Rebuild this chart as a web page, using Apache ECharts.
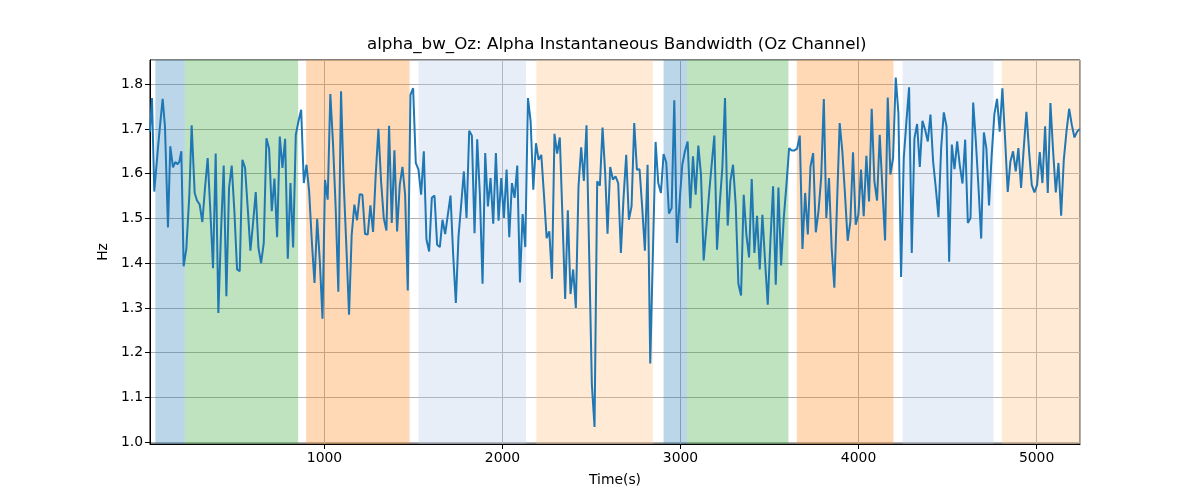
<!DOCTYPE html>
<html>
<head>
<meta charset="utf-8">
<title>alpha_bw_Oz</title>
<script src="https://cdn.jsdelivr.net/npm/echarts@6/dist/echarts.min.js"></script>
<style>
  html, body { margin: 0; padding: 0; background: #fff; }
  #main { width: 1200px; height: 500px; }
</style>
</head>
<body>
<div id="main"></div>
<script>
// time stamps (s) and alpha bandwidth (Hz)
const times = [
  20, 31, 44, 63, 76, 91, 104, 121, 134, 149, 162, 175, 185, 196, 209, 224, 241, 254, 271, 284,
  299, 314, 329, 344, 359, 374, 389, 404, 419, 434, 449, 464, 479, 494, 509, 524, 539, 554, 569, 584,
  599, 614, 629, 644, 659, 674, 689, 704, 719, 734, 749, 764, 779, 794, 809, 824, 839, 854, 869, 884,
  899, 914, 929, 944, 959, 974, 989, 1003, 1018, 1033, 1048, 1063, 1078, 1093, 1108, 1123, 1138, 1153, 1168, 1183,
  1198, 1213, 1228, 1243, 1258, 1273, 1288, 1303, 1318, 1333, 1348, 1363, 1378, 1393, 1408, 1423, 1438, 1453, 1468, 1483,
  1498, 1513, 1528, 1543, 1558, 1573, 1588, 1603, 1618, 1633, 1648, 1663, 1678, 1693, 1708, 1723, 1738, 1753, 1768, 1783,
  1798, 1813, 1828, 1843, 1858, 1873, 1888, 1903, 1918, 1933, 1948, 1963, 1978, 1993, 2008, 2023, 2038, 2053, 2068, 2083,
  2098, 2113, 2128, 2143, 2158, 2173, 2188, 2203, 2218, 2233, 2248, 2263, 2278, 2292, 2307, 2322, 2337, 2352, 2367, 2382,
  2397, 2412, 2427, 2442, 2457, 2472, 2487, 2502, 2517, 2532, 2547, 2562, 2577, 2590, 2605, 2620, 2635, 2650, 2665, 2680,
  2695, 2710, 2725, 2740, 2755, 2770, 2785, 2800, 2815, 2830, 2860, 2875, 2890, 2905, 2920, 2935, 2950, 2965, 2980, 2995,
  3010, 3025, 3040, 3055, 3070, 3085, 3100, 3115, 3130, 3145, 3160, 3175, 3190, 3205, 3220, 3235, 3250, 3265, 3280, 3295,
  3310, 3325, 3340, 3355, 3370, 3385, 3400, 3415, 3430, 3445, 3460, 3475, 3490, 3505, 3520, 3535, 3550, 3565, 3580, 3595,
  3610, 3625, 3640, 3655, 3670, 3685, 3700, 3715, 3730, 3745, 3760, 3775, 3790, 3805, 3819, 3834, 3849, 3864, 3879, 3894,
  3909, 3924, 3939, 3954, 3969, 3984, 3999, 4014, 4029, 4044, 4059, 4074, 4089, 4104, 4119, 4134, 4149, 4164, 4179, 4194,
  4209, 4224, 4239, 4254, 4269, 4284, 4299, 4314, 4329, 4344, 4359, 4374, 4389, 4404, 4419, 4434, 4449, 4464, 4479, 4494,
  4509, 4524, 4539, 4554, 4569, 4584, 4599, 4614, 4629, 4644, 4659, 4674, 4689, 4704, 4718, 4733, 4748, 4763, 4778, 4793,
  4808, 4823, 4838, 4853, 4868, 4883, 4898, 4913, 4928, 4943, 4958, 4973, 4988, 5003, 5018, 5033, 5048, 5063, 5078, 5093,
  5108, 5123, 5138, 5153, 5168, 5183, 5198, 5213, 5228, 5243
];
const bw = [
  1.694, 1.769, 1.560, 1.650, 1.706, 1.767, 1.706, 1.480, 1.661, 1.614, 1.626, 1.621, 1.627, 1.650, 1.393, 1.432, 1.553, 1.708, 1.557, 1.540,
  1.531, 1.492, 1.568, 1.635, 1.516, 1.389, 1.645, 1.289, 1.471, 1.618, 1.326, 1.568, 1.618, 1.516, 1.386, 1.382, 1.631, 1.613, 1.523, 1.428,
  1.490, 1.559, 1.435, 1.400, 1.445, 1.679, 1.656, 1.516, 1.589, 1.458, 1.683, 1.613, 1.678, 1.410, 1.579, 1.435, 1.687, 1.717, 1.743, 1.579,
  1.620, 1.560, 1.449, 1.356, 1.499, 1.404, 1.276, 1.586, 1.542, 1.778, 1.668, 1.523, 1.336, 1.784, 1.579, 1.438, 1.285, 1.464, 1.531, 1.496,
  1.554, 1.553, 1.465, 1.464, 1.529, 1.470, 1.598, 1.700, 1.583, 1.501, 1.473, 1.707, 1.490, 1.652, 1.471, 1.575, 1.615, 1.553, 1.339, 1.776,
  1.791, 1.624, 1.609, 1.553, 1.650, 1.453, 1.426, 1.546, 1.551, 1.441, 1.436, 1.497, 1.465, 1.508, 1.551, 1.419, 1.311, 1.460, 1.531, 1.605,
  1.501, 1.696, 1.685, 1.467, 1.677, 1.553, 1.354, 1.646, 1.527, 1.590, 1.488, 1.646, 1.495, 1.590, 1.501, 1.609, 1.458, 1.579, 1.546, 1.618,
  1.357, 1.510, 1.436, 1.769, 1.717, 1.564, 1.668, 1.631, 1.642, 1.553, 1.456, 1.471, 1.365, 1.689, 1.645, 1.681, 1.501, 1.320, 1.518, 1.331,
  1.386, 1.300, 1.572, 1.659, 1.584, 1.708, 1.419, 1.129, 1.034, 1.583, 1.573, 1.703, 1.600, 1.466, 1.615, 1.587, 1.594, 1.579, 1.423, 1.546,
  1.642, 1.497, 1.527, 1.713, 1.609, 1.610, 1.523, 1.428, 1.620, 1.176, 1.671, 1.579, 1.557, 1.644, 1.625, 1.511, 1.523, 1.764, 1.445, 1.538,
  1.620, 1.650, 1.672, 1.523, 1.639, 1.553, 1.663, 1.598, 1.406, 1.479, 1.553, 1.620, 1.685, 1.430, 1.531, 1.613, 1.769, 1.484, 1.583, 1.620,
  1.531, 1.354, 1.328, 1.553, 1.464, 1.413, 1.588, 1.423, 1.506, 1.386, 1.508, 1.404, 1.307, 1.449, 1.572, 1.352, 1.569, 1.395, 1.501, 1.575,
  1.657, 1.652, 1.652, 1.656, 1.685, 1.432, 1.557, 1.464, 1.616, 1.646, 1.469, 1.516, 1.590, 1.767, 1.501, 1.590, 1.434, 1.345, 1.531, 1.713,
  1.650, 1.553, 1.450, 1.493, 1.648, 1.486, 1.508, 1.609, 1.505, 1.640, 1.538, 1.745, 1.583, 1.540, 1.687, 1.568, 1.451, 1.770, 1.598, 1.635,
  1.815, 1.735, 1.369, 1.635, 1.717, 1.793, 1.423, 1.679, 1.711, 1.615, 1.718, 1.698, 1.672, 1.732, 1.627, 1.568, 1.503, 1.657, 1.737, 1.706,
  1.403, 1.665, 1.610, 1.672, 1.618, 1.578, 1.676, 1.490, 1.501, 1.759, 1.672, 1.568, 1.455, 1.692, 1.657, 1.529, 1.642, 1.733, 1.767, 1.694,
  1.791, 1.679, 1.559, 1.627, 1.650, 1.605, 1.657, 1.568, 1.657, 1.738, 1.650, 1.575, 1.558, 1.575, 1.648, 1.579, 1.706, 1.557, 1.758, 1.650,
  1.558, 1.624, 1.506, 1.631, 1.694, 1.745, 1.709, 1.681, 1.694, 1.700
];

// shaded segments (start, end, colour)
const bandStart = [50, 216, 897, 1528, 2190, 2905, 3036, 3653, 4248, 4805];
const bandEnd   = [216, 852, 1478, 2133, 2845, 3036, 3606, 4196, 4758, 5260];
const bandColor = [
  'rgba(31,119,180,0.3)', 'rgba(44,160,44,0.3)', 'rgba(255,127,14,0.3)', 'rgba(174,199,232,0.3)', 'rgba(255,187,120,0.3)',
  'rgba(31,119,180,0.3)', 'rgba(44,160,44,0.3)', 'rgba(255,127,14,0.3)', 'rgba(174,199,232,0.3)', 'rgba(255,187,120,0.3)'
];

const xMin = 20, xMax = 5244;
const yMin = 0.996, yMax = 1.854;

const font = 'DejaVu Sans';
let chart = echarts.init(document.getElementById('main'), null, { renderer: 'canvas' });

let points = times.map((t, i) => [t, bw[i]]);
let areas = bandStart.map((s, i) => [
  { xAxis: s, itemStyle: { color: bandColor[i] } },
  { xAxis: bandEnd[i] }
]);

chart.setOption({
  animation: false,
  backgroundColor: '#fff',
  title: {
    text: 'alpha_bw_Oz: Alpha Instantaneous Bandwidth (Oz Channel)',
    left: 367,
    top: 36,
    padding: 0,
    textStyle: { fontFamily: font, fontSize: 16.7, fontWeight: 'normal', color: '#000' }
  },
  grid: {
    left: 150, right: 120, top: 60, bottom: 56,
    show: true, borderColor: '#000', borderWidth: 1, backgroundColor: 'transparent'
  },
  xAxis: {
    type: 'value',
    min: xMin, max: xMax,
    splitNumber: 5,
    name: 'Time(s)',
    nameLocation: 'middle',
    nameGap: 29,
    nameTextStyle: { fontFamily: font, fontSize: 13.9, color: '#000' },
    axisLine: { show: true, onZero: false, lineStyle: { color: '#000', width: 1 } },
    axisTick: { show: true, inside: false, length: 5, lineStyle: { color: '#000' } },
    axisLabel: {
      showMinLabel: false, showMaxLabel: false,
      margin: 7, fontFamily: font, fontSize: 13.9, color: '#000',
      formatter: v => String(Math.round(v))
    },
    splitLine: { show: true, lineStyle: { color: '#b0b0b0', width: 1 } }
  },
  yAxis: {
    type: 'value',
    min: yMin, max: yMax,
    splitNumber: 8,
    name: 'Hz',
    nameLocation: 'middle',
    nameGap: 38,
    nameTextStyle: { fontFamily: font, fontSize: 13.9, color: '#000' },
    axisLine: { show: true, lineStyle: { color: '#000', width: 1 } },
    axisTick: { show: true, inside: false, length: 5, lineStyle: { color: '#000' } },
    axisLabel: {
      showMinLabel: false, showMaxLabel: false,
      margin: 7, fontFamily: font, fontSize: 13.9, color: '#000',
      formatter: v => v.toFixed(1)
    },
    splitLine: { show: true, lineStyle: { color: '#b0b0b0', width: 1 } }
  },
  series: [{
    type: 'line',
    data: points,
    showSymbol: false,
    symbol: 'none',
    lineStyle: { color: '#1f77b4', width: 2 },
    z: 3,
    markArea: {
      silent: true,
      data: areas
    }
  }]
});
</script>
</body>
</html>
